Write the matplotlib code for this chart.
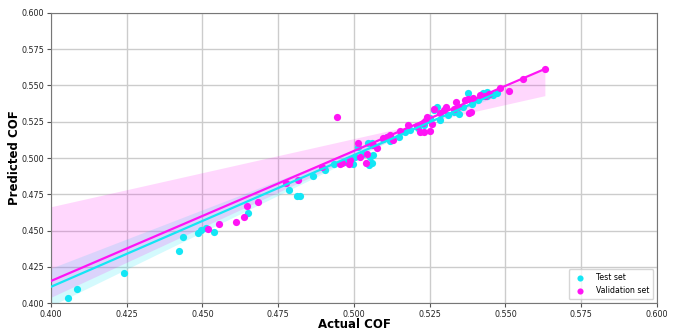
import numpy as np
import matplotlib.pyplot as plt

# Test set (cyan)
test_x = [0.4057, 0.4086, 0.4240, 0.4421, 0.4436, 0.4484, 0.4494, 0.4511, 0.4539, 0.4650,
          0.4784, 0.4812, 0.4822, 0.4865, 0.4905, 0.4935, 0.4970, 0.4998, 0.5005, 0.5014,
          0.5030, 0.5047, 0.5051, 0.5053, 0.5058, 0.5058, 0.5064, 0.5095, 0.5108, 0.5120,
          0.5150, 0.5168, 0.5185, 0.5210, 0.5230, 0.5251, 0.5265, 0.5273, 0.5284, 0.5310,
          0.5330, 0.5348, 0.5360, 0.5377, 0.5390, 0.5410, 0.5427, 0.5438, 0.5440, 0.5460,
          0.5471]
test_y = [0.4037, 0.4099, 0.4210, 0.4357, 0.4455, 0.4483, 0.4501, 0.4520, 0.4492, 0.4623,
          0.4777, 0.4738, 0.4740, 0.4875, 0.4915, 0.4959, 0.4970, 0.4959, 0.5005, 0.5078,
          0.5030, 0.5101, 0.4954, 0.5005, 0.4963, 0.5101, 0.5021, 0.5129, 0.5143, 0.5120,
          0.5145, 0.5182, 0.5193, 0.5210, 0.5225, 0.5274, 0.5331, 0.5350, 0.5262, 0.5300,
          0.5320, 0.5302, 0.5350, 0.5446, 0.5375, 0.5400, 0.5451, 0.5455, 0.5425, 0.5434,
          0.5446]

# Validation set (magenta)
val_x = [0.4518, 0.4554, 0.4612, 0.4636, 0.4647, 0.4682, 0.4775, 0.4816, 0.4893, 0.4943,
         0.4954, 0.4959, 0.4984, 0.4987, 0.5014, 0.5020, 0.5039, 0.5042, 0.5064, 0.5075,
         0.5097, 0.5108, 0.5119, 0.5130, 0.5152, 0.5179, 0.5209, 0.5218, 0.5229, 0.5231,
         0.5234, 0.5242, 0.5251, 0.5256, 0.5265, 0.5284, 0.5297, 0.5304, 0.5331, 0.5337,
         0.5344, 0.5367, 0.5377, 0.5380, 0.5385, 0.5392, 0.5416, 0.5432, 0.5446, 0.5482,
         0.5513, 0.5557, 0.5630]
val_y = [0.4510, 0.4547, 0.4559, 0.4595, 0.4667, 0.4697, 0.4826, 0.4848, 0.4936, 0.5285,
         0.4959, 0.4963, 0.4959, 0.4986, 0.5106, 0.5010, 0.4966, 0.5028, 0.5090, 0.5067,
         0.5136, 0.5148, 0.5159, 0.5124, 0.5188, 0.5228, 0.5221, 0.5182, 0.5243, 0.5177,
         0.5258, 0.5281, 0.5186, 0.5234, 0.5336, 0.5308, 0.5331, 0.5354, 0.5340, 0.5389,
         0.5354, 0.5400, 0.5407, 0.5308, 0.5315, 0.5417, 0.5434, 0.5430, 0.5439, 0.5485,
         0.5464, 0.5547, 0.5614]

# fitted lines (end points)
test_fit_x = [0.400, 0.547]
test_fit_y = [0.4112, 0.5447]
val_fit_x = [0.400, 0.563]
val_fit_y = [0.4152, 0.5614]

# shaded bands (edge values at the band ends)
val_band_x = [0.400, 0.563]
val_band_a = [0.4664, 0.5430]
val_band_b = [0.4040, 0.5614]
test_band_x = [0.400, 0.547]
test_band_a = [0.3980, 0.5475]
test_band_b = [0.4240, 0.5425]

c_test = '#14e6f5'
c_val = '#ff14f5'

fig, ax = plt.subplots(figsize=(6.78, 3.33), dpi=100)
fig.subplots_adjust(left=0.0752, right=0.969, bottom=0.090, top=0.961)

# bands
ax.fill_between(test_band_x, test_band_a, test_band_b, color=c_test, alpha=0.18, lw=0, zorder=1)
ax.fill_between(val_band_x, val_band_a, val_band_b, color=c_val, alpha=0.17, lw=0, zorder=1)

# points
ax.scatter(test_x, test_y, s=27, color=c_test, label='Test set', zorder=3, linewidths=0)
ax.scatter(val_x, val_y, s=27, color=c_val, label='Validation set', zorder=3, linewidths=0)

# regression lines
ax.plot(test_fit_x, test_fit_y, color=c_test, lw=1.6, zorder=4)
ax.plot(val_fit_x, val_fit_y, color=c_val, lw=1.6, zorder=4)

ax.set_xlim(0.4, 0.6)
ax.set_ylim(0.4, 0.6)
ax.set_xticks(np.arange(0.4, 0.6001, 0.025))
ax.set_yticks(np.arange(0.4, 0.6001, 0.025))
ax.xaxis.set_major_formatter(plt.FormatStrFormatter('%.3f'))
ax.yaxis.set_major_formatter(plt.FormatStrFormatter('%.3f'))
ax.tick_params(labelsize=5.8, length=3, pad=2, color='#555555', labelcolor='#222222')
ax.grid(True, color='#cccccc', lw=1)
ax.set_axisbelow(True)
for sp in ax.spines.values():
    sp.set_color('#777777')

ax.set_xlabel('Actual COF', fontsize=8.5, fontweight='bold')
ax.set_ylabel('Predicted COF', fontsize=8.5, fontweight='bold')
ax.xaxis.set_label_coords(0.5, -0.0725)
ax.yaxis.set_label_coords(-0.061, 0.5)
ax.xaxis.label.set_va('center')
ax.yaxis.label.set_va('center')
ax.legend(loc='lower right', fontsize=5.6, handletextpad=1.0, borderpad=0.5,
          markerscale=0.85, fancybox=True)

fig.savefig('out.png', dpi=100)
